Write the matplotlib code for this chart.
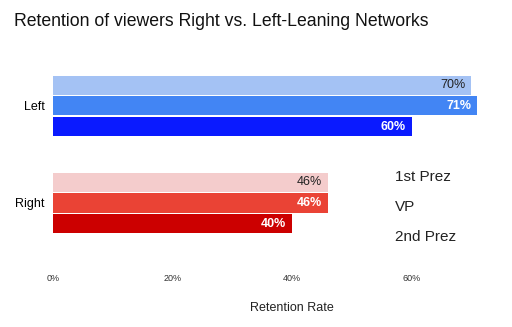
import matplotlib.pyplot as plt
import numpy as np

plt.rcParams['font.family'] = ['Liberation Sans', 'DejaVu Sans']

groups = ["Left", "Right"]
series = ["1st Prez", "VP", "2nd Prez"]
values = {
    "1st Prez": [70, 46],
    "VP": [71, 46],
    "2nd Prez": [60, 40],
}
colors = {
    "Left": ["#a4c2f4", "#4285f4", "#0a1aff"],
    "Right": ["#f4cccc", "#ea4335", "#cc0000"],
}
label_colors = ["#222222", "white", "white"]
label_weights = ["normal", "bold", "bold"]
x_ticks = [0, 20, 40, 60]
x_tick_labels = ["0%", "20%", "40%", "60%"]

W, H = 512, 327
fig = plt.figure(figsize=(W / 100, H / 100), dpi=100)

ax_left, ax_right = 53, 483
ax_top, ax_bottom = 60, 268
ax = fig.add_axes([ax_left / W, 1 - ax_bottom / H, (ax_right - ax_left) / W, (ax_bottom - ax_top) / H])

group_pos = np.arange(len(groups))
bar_h = 0.196
pitch = 0.216

for si, s in enumerate(series):
    offs = (si - 1) * pitch
    for gi, g in enumerate(groups):
        v = values[s][gi]
        y = group_pos[gi] + offs
        ax.barh(y, v, height=bar_h, color=colors[g][si], edgecolor='none')
        ax.text(v - 1.0, y, f"{v}%", ha='right', va='center', fontsize=9,
                color=label_colors[si], fontweight=label_weights[si])

ax.set_xlim(0, (ax_right - ax_left) / 5.975)
ax.set_ylim(1.670, -0.474)
ax.set_yticks(group_pos)
ax.set_yticklabels(groups, fontsize=9)
ax.set_xticks(x_ticks)
ax.set_xticklabels(x_tick_labels, fontsize=6.5, color='#333333')
ax.tick_params(axis='both', length=0)
ax.tick_params(axis='x', pad=4)
ax.tick_params(axis='y', pad=6)
for sp in ax.spines.values():
    sp.set_visible(False)

ax.set_xlabel("Retention Rate", fontsize=9, color='#222222')
ax.xaxis.set_label_coords((292 - ax_left) / (ax_right - ax_left), 1 - (308 - ax_top) / (ax_bottom - ax_top))
ax.xaxis.label.set_va('center')

fig.text(14 / W, 1 - 21 / H, "Retention of viewers Right vs. Left-Leaning Networks",
         fontsize=12.7, ha='left', va='center', color='#111111')

for si, s in enumerate(series):
    fig.text(395 / W, 1 - (177 + si * 30) / H, s, fontsize=11, ha='left', va='center', color='#222222')

fig.savefig("out.png", dpi=100)
